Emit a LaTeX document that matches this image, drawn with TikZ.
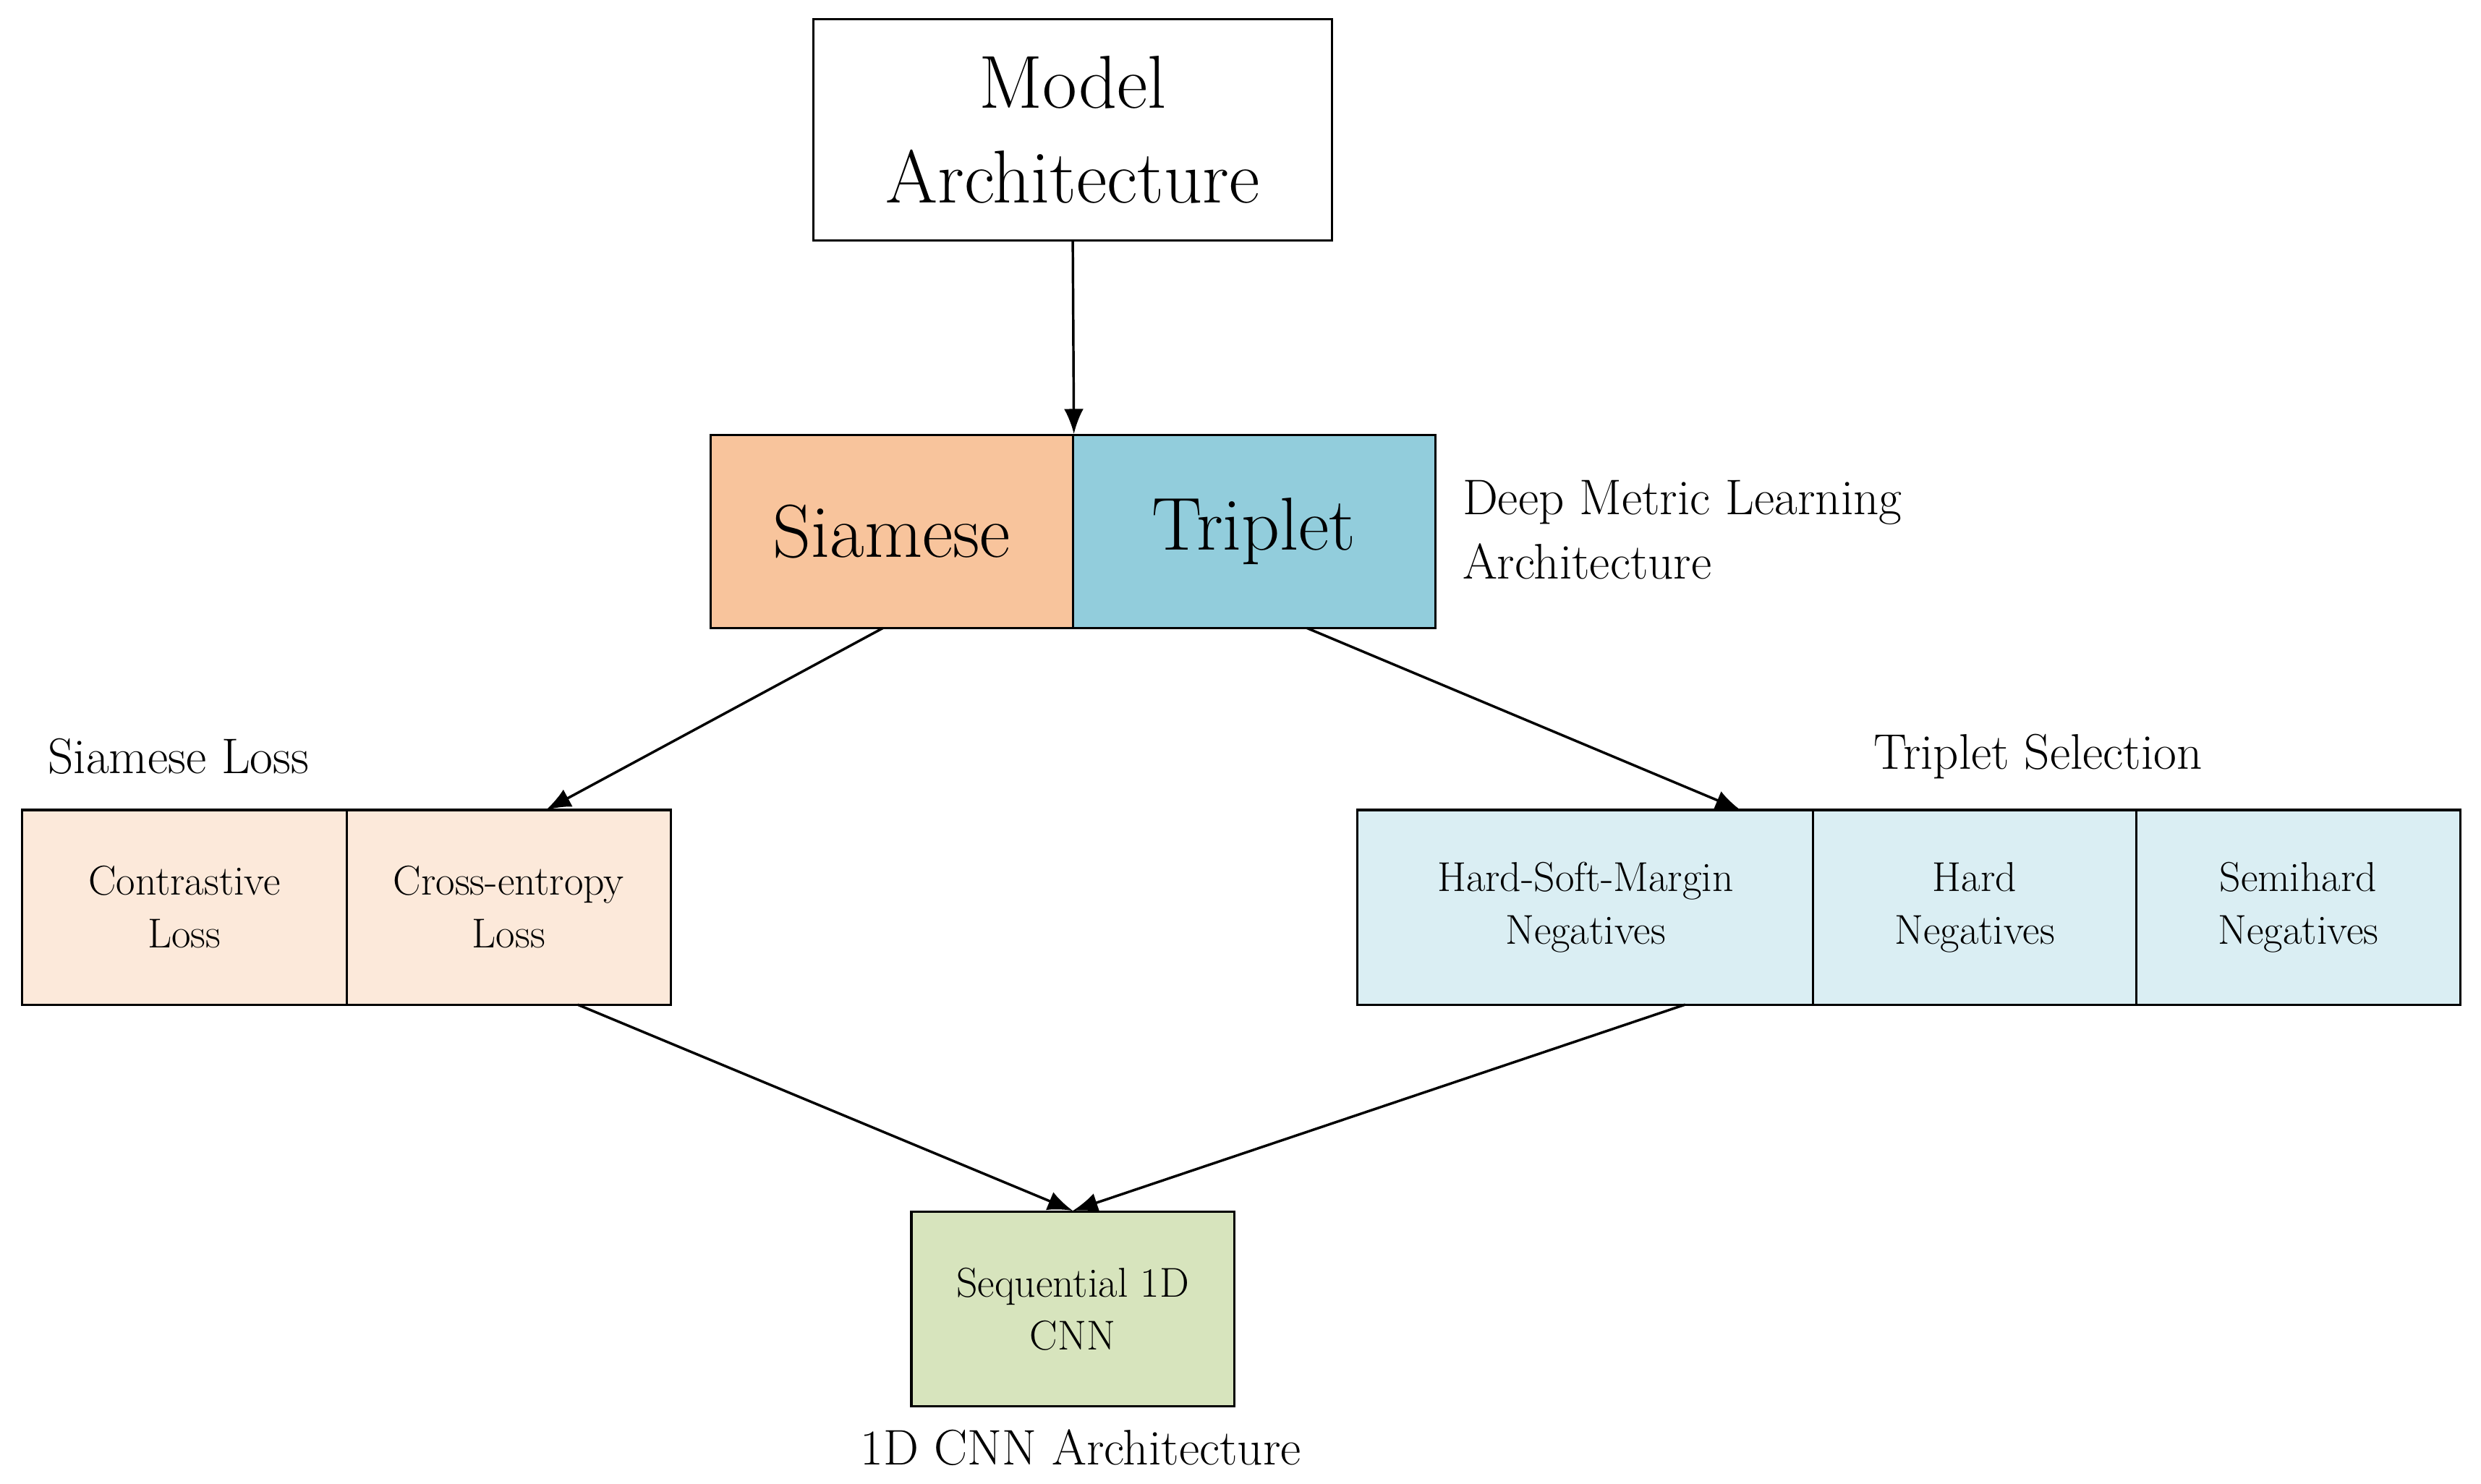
\documentclass[tikz,border=0pt]{standalone}
\usetikzlibrary{arrows.meta}
\definecolor{sor}{HTML}{F8C49C}
\definecolor{tbl}{HTML}{92CDDC}
\definecolor{lor}{HTML}{FCE9DA}
\definecolor{lbl}{HTML}{DAEEF3}
\definecolor{grn}{HTML}{D7E4BD}
\begin{document}
\begin{tikzpicture}[x=0.02cm,y=-0.02cm,
 box/.style={draw,line width=0.8pt,inner sep=0pt,align=center},
 small/.style={font=\fontsize{15}{19}\selectfont},
 lab/.style={font=\fontsize{18}{23}\selectfont,inner sep=0pt},
 arr/.style={-{Latex[length=9pt,width=7pt]},line width=0.9pt}]
\useasboundingbox (0,0) rectangle (1568,938);
\node[box,minimum width=328*0.02cm,minimum height=140*0.02cm,font=\fontsize{27}{34}\selectfont] (m) at (678,82) {Model\\Architecture};
\node[box,fill=sor,minimum width=229*0.02cm,minimum height=122*0.02cm,font=\fontsize{27}{34}\selectfont] (s) at (563.5,336) {Siamese};
\node[box,fill=tbl,minimum width=229*0.02cm,minimum height=122*0.02cm,font=\fontsize{27}{34}\selectfont] (t) at (792.5,336) {Triplet};
\node[lab,anchor=west,align=left] (dml) at (924,335) {Deep Metric Learning\\Architecture};
\node[box,small,fill=lor,minimum width=205*0.02cm,minimum height=123*0.02cm] (c) at (116.5,573.5) {Contrastive\\Loss};
\node[box,small,fill=lor,minimum width=205*0.02cm,minimum height=123*0.02cm] (ce) at (321.5,573.5) {Cross-entropy\\Loss};
\node[lab,anchor=west] (sl) at (30,478) {Siamese Loss};
\node[box,small,fill=lbl,minimum width=288*0.02cm,minimum height=123*0.02cm] (h1) at (1002,573.5) {Hard-Soft-Margin\\Negatives};
\node[box,small,fill=lbl,minimum width=204*0.02cm,minimum height=123*0.02cm] (h2) at (1248,573.5) {Hard\\Negatives};
\node[box,small,fill=lbl,minimum width=205*0.02cm,minimum height=123*0.02cm] (h3) at (1452.5,573.5) {Semihard\\Negatives};
\node[lab] (ts) at (1288,478) {Triplet Selection};
\node[box,small,fill=grn,minimum width=204*0.02cm,minimum height=123*0.02cm] (cnn) at (678,827.5) {Sequential 1D\\CNN};
\node[lab] (ca) at (683,915) {1D CNN Architecture};
\coordinate (sb) at (558,397);
\coordinate (tb) at (826,397);
\coordinate (ct) at (345,512);
\coordinate (ht) at (1100,512);
\coordinate (cb) at (365,635);
\coordinate (hb) at (1065,635);
\draw[arr] (m.south) -- (s.north east);
\draw[arr] (sb) -- (ct);
\draw[arr] (tb) -- (ht);
\draw[arr] (cb) -- (cnn.north);
\draw[arr] (hb) -- (cnn.north);
\end{tikzpicture}
\end{document}
